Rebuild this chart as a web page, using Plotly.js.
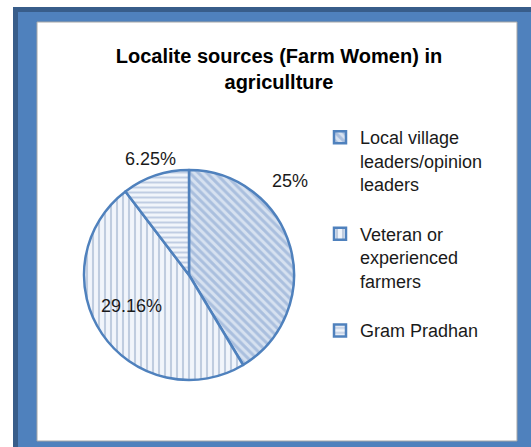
<!DOCTYPE html>
<html>
<head>
<meta charset="utf-8">
<script src="https://cdn.plot.ly/plotly-3.0.1.min.js"></script>
<style>html,body{margin:0;padding:0;background:#fff;}#chart{width:531px;height:447px;}</style>
</head>
<body>
<div id="chart"></div>
<script>
// ---- data ----
var categories = [
  "Local village<br>leaders/opinion<br>leaders<br>",
  "Veteran or<br>experienced<br>farmers<br>",
  "Gram Pradhan"
];
var values = [25, 29.16, 6.25];
var chartTitle = "Localite sources (Farm Women) in<br>agricullture";

// ---- styles ----
var W = 531, H = 447;
function px(x){ return x / W; }
function py(y){ return 1 - y / H; }

var sliceBg = ["#d6e1f0", "#f1f5fb", "#f1f5fb"];
var stripe = ["#7e9dcc", "#8ea3c3", "#8fa6cc"];
var labelPos = [[290, 181], [131, 306], [150, 159]];

var trace = {
  type: "pie",
  labels: categories,
  values: values,
  sort: false,
  direction: "clockwise",
  rotation: 0,
  textinfo: "none",
  hoverinfo: "label+value",
  domain: { x: [px(84), px(294)], y: [py(380), py(170)] },
  marker: {
    colors: sliceBg,
    line: { color: "#4f81bd", width: 2.5 },
    pattern: {
      shape: ["\\", "|", "-"],
      fgcolor: stripe,
      size: [6, 6, 5],
      solidity: [0.5, 0.35, 0.4],
      fillmode: "overlay"
    }
  }
};

var annotations = values.map(function (v, i) {
  return {
    text: v + "%",
    xref: "paper", yref: "paper",
    x: px(labelPos[i][0]), y: py(labelPos[i][1]),
    xanchor: "center", yanchor: "middle",
    showarrow: false,
    font: { family: "Liberation Sans, Arial, sans-serif", size: 18, color: "#1a1a1a" }
  };
});

var shapes = [
  { type: "rect", xref: "paper", yref: "paper", layer: "below",
    x0: px(13), x1: px(531), y0: py(447), y1: py(7),
    fillcolor: "#385d8a", line: { width: 0 } },
  { type: "rect", xref: "paper", yref: "paper", layer: "below",
    x0: px(18), x1: px(531), y0: py(447), y1: py(12),
    fillcolor: "#4f81bd", line: { width: 0 } },
  { type: "rect", xref: "paper", yref: "paper", layer: "below",
    x0: px(37), x1: px(517), y0: py(441), y1: py(22),
    fillcolor: "#ffffff", line: { width: 1, color: "#a6a6a6" } }
];

var layout = {
  width: W, height: H,
  margin: { l: 0, r: 0, t: 0, b: 0 },
  paper_bgcolor: "#ffffff",
  plot_bgcolor: "rgba(0,0,0,0)",
  title: {
    text: "<b>" + chartTitle + "</b>",
    xref: "paper", yref: "paper",
    x: px(279), xanchor: "center",
    y: py(63), yanchor: "top",
    font: { family: "Liberation Sans, Arial, sans-serif", size: 20, color: "#000000" }
  },
  showlegend: true,
  legend: {
    x: px(320), xanchor: "left",
    y: py(119), yanchor: "top",
    valign: "top",
    bgcolor: "rgba(0,0,0,0)",
    font: { family: "Liberation Sans, Arial, sans-serif", size: 18, color: "#1a1a1a" }
  },
  shapes: shapes,
  annotations: annotations
};

Plotly.newPlot("chart", [trace], layout, { displayModeBar: false, staticPlot: true });
</script>
</body>
</html>
